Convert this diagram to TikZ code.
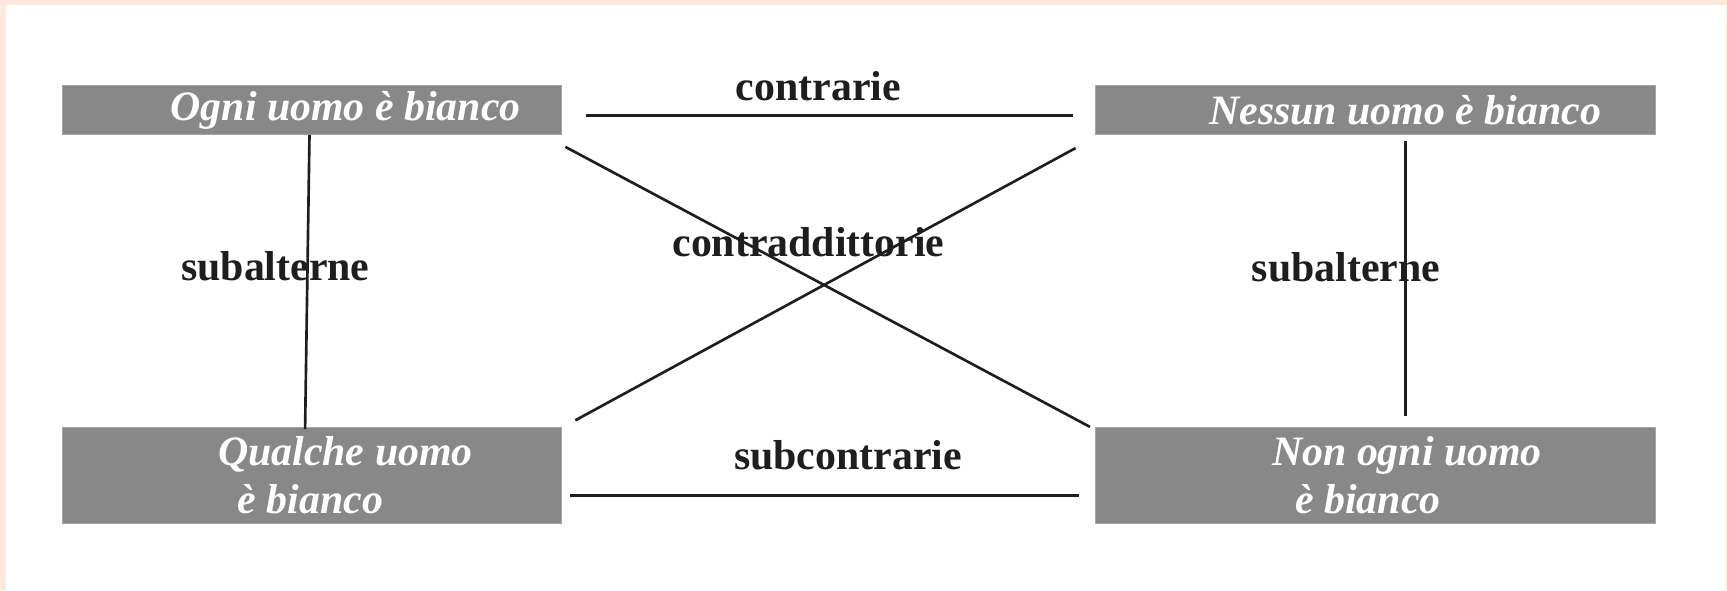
\documentclass[tikz,border=0pt]{standalone}
\usepackage{fontspec}
\setmainfont{Liberation Serif}
\usetikzlibrary{positioning, backgrounds}

\definecolor{peach}{RGB}{252,233,219}
\definecolor{boxgray}{RGB}{136,136,136}
\definecolor{ink}{RGB}{30,30,30}

\begin{document}
\begin{tikzpicture}[x=0.5pt, y=0.5pt]
      \tikzset{
  prop/.style={
    rectangle, fill=boxgray, draw=gray!70, line width=0.4pt,
    minimum height=22pt, inner sep=0pt
  },
  prop2/.style={prop, minimum height=43.5pt},
  proptext/.style={
    text=white, inner sep=0pt, align=left,
    font=\fontsize{19}{21.5}\selectfont\bfseries\itshape
  },
  link/.style={draw=ink, line width=1.2pt},
  rel/.style={text=ink, inner sep=0pt, font=\fontsize{19}{22}\selectfont\bfseries},
}

%% ---- PAGE ----
\useasboundingbox (0,0) rectangle (1568,536);
\fill[peach] (0,0) rectangle (1568,536);
\fill[white] (5.4,0) rectangle (1567,531.5);

%% ---- PROPOSITIONS ----
\node[prop,  minimum width=226.5pt] (ogni)    at (283.5,436)   {};
\node[prop,  minimum width=254pt]   (nessun)  at (1249,436)    {};
\node[prop2, minimum width=226.5pt] (qualche) at (283.5,104.5) {};
\node[prop2, minimum width=254pt]   (nonogni) at (1249,104.5)  {};

\node[proptext, right=49pt of ogni.west]      (ogni-t)    {Ogni uomo è bianco};
\node[proptext, right=51.5pt of nessun.west]  (nessun-t)  {Nessun uomo è bianco};
\node[proptext, right=70.5pt of qualche.west] (qualche-t) {Qualche uomo\\\hspace*{9pt}è bianco};
\node[proptext, right=80pt of nonogni.west]   (nonogni-t) {Non ogni uomo\\\hspace*{10.5pt}è bianco};

%% ---- RELATIONS ----
\draw[link, shorten <=11pt, shorten >=10pt]
  ([yshift=-2.5pt]ogni.east) -- ([yshift=-2.5pt]nessun.west);
\draw[link, shorten <=3.5pt, shorten >=7.5pt]
  ([yshift=-9.25pt]qualche.east) -- ([yshift=-9.25pt]nonogni.west);

\draw[link] ([xshift=-1.25pt]ogni.south) -- ([shift={(-3.25pt,-1pt)}]qualche.north);
\draw[link, shorten <=3pt, shorten >=5pt]
  ([xshift=13.5pt]nessun.south) -- ([xshift=13.5pt]nonogni.north);

\draw[link] ([shift={(1.5pt,-5.5pt)}]ogni.south east) -- ([xshift=-2.5pt]nonogni.north west);
\draw[link] ([shift={(-9pt,-6pt)}]nessun.south west) -- ([shift={(6pt,3pt)}]qualche.north east);

%% ---- LABELS ----
\node[rel] (contr)    at (743,458) {contrarie};
\node[rel] (subcontr) at (770,123) {subcontrarie};
\node[rel] (subl)     at (250,294) {subalterne};
\node[rel] (subr)     at (1222,293) {subalterne};
\node[rel] (contrad)  at (734,316) {contraddittorie};

    \end{tikzpicture}
\end{document}
